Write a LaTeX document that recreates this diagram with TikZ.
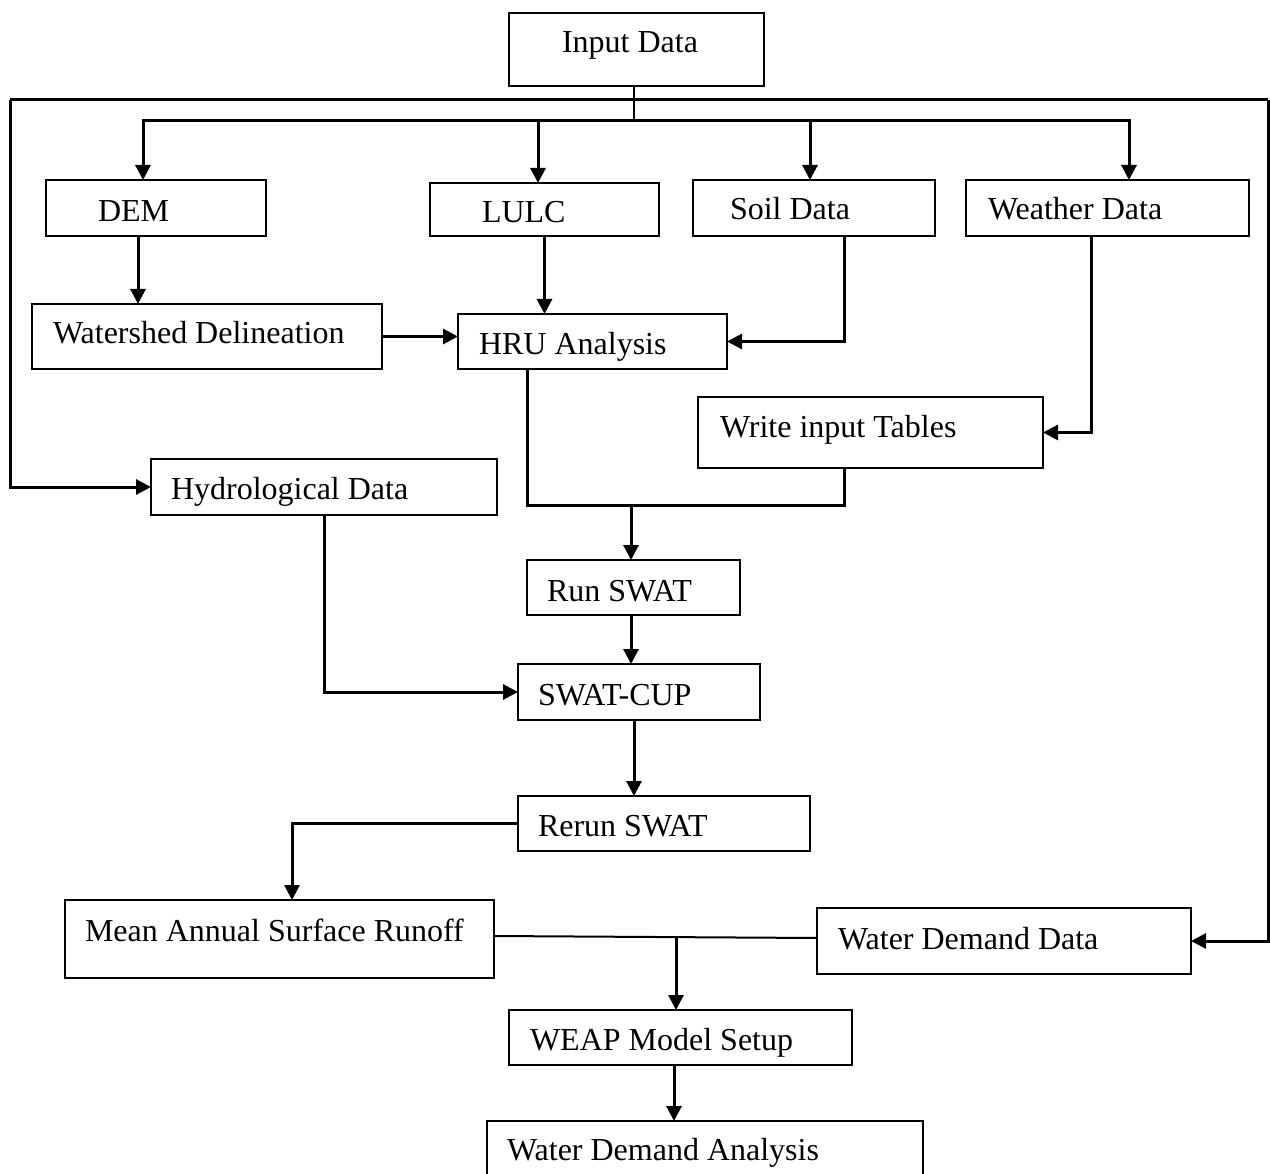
\documentclass[tikz,border=0pt]{standalone}
\usepackage{fontspec}
\setmainfont{Liberation Serif}
\usetikzlibrary{arrows.meta}
\tikzset{
  boxst/.style={draw, rectangle, line width=1.6pt, inner sep=0pt, outer sep=0pt},
  txtst/.style={inner sep=0pt, outer sep=0pt, font=\fontsize{32}{38}\selectfont},
  conn/.style={line width=3pt},
  arr/.style={conn, -{Triangle[length=15pt,width=15pt]}}
}
% name, x1, y1, x2, y2, text x, text baseline y, text
\newcommand\flowbox[8]{%
  \node[boxst, minimum width={#4-#2}, minimum height={#5-#3}] (#1) at ({(#2+#4)/2},{(#3+#5)/2}) {};
  \node[txtst, anchor=base west] (#1t) at (#6,#7) {#8};}
\begin{document}
\begin{tikzpicture}[x=1pt, y=-1pt]
\clip (0,0) rectangle (1270,1174);
\useasboundingbox (0,0) rectangle (1270,1174);

\flowbox{in}{509}{13}{764}{86}{562}{53}{Input Data}
\flowbox{dem}{46}{180}{266}{236}{98}{222}{DEM}
\flowbox{lulc}{430}{183}{659}{236}{482}{223}{LULC}
\flowbox{soil}{693}{180}{935}{236}{730}{220}{Soil Data}
\flowbox{wea}{966}{180}{1249}{236}{988}{220}{Weather Data}
\flowbox{ws}{32}{304}{382}{369}{53}{344}{Watershed Delineation}
\flowbox{hru}{458}{314}{727}{369}{479}{355}{HRU Analysis}
\flowbox{wit}{698}{397}{1043}{468}{720}{437}{Write input Tables}
\flowbox{hyd}{151}{459}{497}{515}{171}{499}{Hydrological Data}
\flowbox{run}{527}{560}{740}{615}{547}{601}{Run SWAT}
\flowbox{cup}{518}{664}{760}{720}{538}{705}{SWAT-CUP}
\flowbox{rer}{518}{796}{810}{851}{538}{836}{Rerun SWAT}
\flowbox{mean}{65}{900}{494}{978}{85}{941}{Mean Annual Surface Runoff}
\flowbox{wdd}{817}{908}{1191}{974}{838}{949}{Water Demand Data}
\flowbox{weap}{509}{1010}{852}{1065}{530}{1050}{WEAP Model Setup}
\flowbox{wda}{487}{1121}{923}{1190}{507}{1160}{Water Demand Analysis}

% coordinates for junctions
\coordinate (split) at (634,121);
\coordinate (lpl) at (10,100);
\coordinate (lpr) at (1268,100);
\coordinate (mrg) at (631,505);
\coordinate (jn) at (676,937);

% input distribution
\draw[line width=2pt] ([xshift=-2.5pt]in.south) -- (split);
\draw[arr] (split) -| ([xshift=-13pt]dem.north);
\draw[arr] (split) -| ([xshift=-6.5pt]lulc.north);
\draw[arr] (split) -| ([xshift=-4pt]soil.north);
\draw[arr] (split) -| ([xshift=21.5pt]wea.north);

% outer loop
\draw[conn] (lpl) -- (lpr);
\draw[arr] (lpl) |- (hyd.west);
\draw[arr] (lpr) |- (wdd.east);

% upper flow
\draw[arr] ([xshift=-18pt]dem.south) -- ([xshift=-69pt]ws.north);
\draw[arr] (ws.east) -- (ws.east -| hru.west);
\draw[arr] (lulc.south) -- (lulc.south |- hru.north);
\draw[arr] ([xshift=30pt]soil.south) |- (hru.east);
\draw[arr] ([xshift=-16.5pt]wea.south) |- (wit.east);
\draw[conn] ([xshift=-65.5pt]hru.south) |- (mrg) -| ([xshift=-26.5pt]wit.south);
\draw[arr] (mrg) -- (mrg |- run.north);

% SWAT chain
\draw[arr] (run.south -| mrg) -- (cup.north -| mrg);
\draw[arr] (hyd.south) |- (cup.west);
\draw[arr] ([xshift=-5pt]cup.south) -- ([xshift=-5pt]cup.south |- rer.north);
\draw[arr] (rer.west) -| ([xshift=12.5pt]mean.north);

% WEAP
\draw[line width=2pt] ([yshift=3pt]mean.east) -- ([yshift=3pt]wdd.west);
\draw[arr] (jn) -- (jn |- weap.north);
\draw[arr] ([xshift=-6.5pt]weap.south) -- ([xshift=-6.5pt]weap.south |- wda.north);
\end{tikzpicture}
\end{document}
